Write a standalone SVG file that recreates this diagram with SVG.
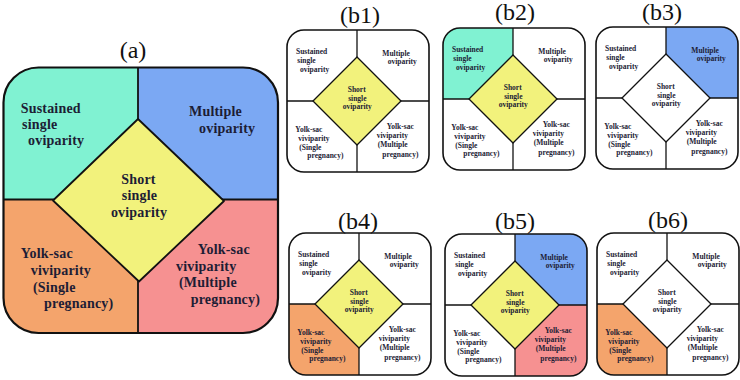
<svg xmlns="http://www.w3.org/2000/svg" width="740" height="380" viewBox="0 0 740 380">
  <defs>
    <clipPath id="clipA"><rect x="3.5" y="67.5" width="274.5" height="265.5" rx="35"/></clipPath>
    <clipPath id="clipB"><rect x="0" y="0" width="142" height="142" rx="17"/></clipPath>
  </defs>
  <rect fill="#ffffff" x="0" y="0" width="740" height="380"/>

  <!-- Panel (a) -->
  <g id="panel-a">
    <text font-family="Liberation Serif, serif" font-size="24" fill="#111" text-anchor="middle" x="133" y="58">(a)</text>
    <g clip-path="url(#clipA)">
      <rect fill="#80F2D2" x="3.5" y="67.5" width="134.5" height="132"/>
      <rect fill="#7BA8F3" x="138" y="67.5" width="140" height="132"/>
      <rect fill="#F4A46C" x="3.5" y="199.5" width="134.5" height="134"/>
      <rect fill="#F69191" x="138" y="199.5" width="140" height="134"/>
    </g>
    <g stroke="#111" stroke-width="1.8" fill="none">
      <line x1="138" y1="67.5" x2="138" y2="333"/>
      <line x1="3.5" y1="199.5" x2="278" y2="199.5"/>
    </g>
    <polygon fill="#F2F27C" stroke="#111" stroke-width="1.8" stroke-linejoin="round" points="138,119 224,201 139,281.5 53,200.5"/>
    <rect fill="none" stroke="#111" stroke-width="2.2" x="3.5" y="67.5" width="274.5" height="265.5" rx="35"/>
    <g font-family="Liberation Serif, serif" font-weight="bold" font-size="14" fill="#1d1d35" letter-spacing="0.2">
      <text x="20.7" y="112.7">Sustained</text>
      <text x="22" y="129">single</text>
      <text x="28" y="145">oviparity</text>
      <text x="189" y="116">Multiple</text>
      <text x="199" y="132.7">oviparity</text>
      <text text-anchor="middle" x="138.5" y="184">Short</text>
      <text text-anchor="middle" x="139.5" y="200">single</text>
      <text text-anchor="middle" x="139" y="216.7">oviparity</text>
      <text x="20.7" y="258">Yolk-sac</text>
      <text x="30.7" y="275">viviparity</text>
      <text x="33" y="291.7">(Single</text>
      <text x="44" y="308">pregnancy)</text>
      <text x="197.7" y="254">Yolk-sac</text>
      <text x="176" y="270.7">viviparity</text>
      <text x="179" y="287">(Multiple</text>
      <text x="190.7" y="304">pregnancy)</text>
    </g>
  </g>

  <!-- Panel (b1) -->
  <g id="panel-b1">
    <text font-family="Liberation Serif, serif" font-size="24" fill="#111" text-anchor="middle" x="360" y="22.5">(b1)</text>
    <g transform="translate(287,30)">
      <g stroke="#111" stroke-width="1.3"><line x1="70" y1="0" x2="70" y2="142"/><line x1="0" y1="71" x2="142" y2="71"/></g>
      <polygon fill="#F2F27C" stroke="#111" stroke-width="1.3" stroke-linejoin="round" points="70,27 114,71 70,115 26,71"/>
      <rect fill="none" stroke="#111" stroke-width="1.6" x="0" y="0" width="142" height="142" rx="17"/>
      <g transform="scale(0.5)" font-family="Liberation Serif, serif" font-weight="bold" font-size="15" fill="#1d1d35">
        <text x="18" y="48">Sustained</text>
        <text x="20.6" y="65.4">single</text>
        <text x="26" y="83.4">oviparity</text>
        <text x="190.6" y="51.4">Multiple</text>
        <text x="201.4" y="68">oviparity</text>
        <text text-anchor="middle" x="139.4" y="123.4">Short</text>
        <text text-anchor="middle" x="140.6" y="141">single</text>
        <text text-anchor="middle" x="140.6" y="158.6">oviparity</text>
        <text x="16.6" y="203.4">Yolk-sac</text>
        <text x="22.6" y="221.4">viviparity</text>
        <text x="24.6" y="240">(Single</text>
        <text x="40.6" y="256.6">pregnancy)</text>
        <text x="199.4" y="198.6">Yolk-sac</text>
        <text x="179.4" y="216">viviparity</text>
        <text x="181.4" y="234.6">(Multiple</text>
        <text x="190.6" y="253.4">pregnancy)</text>
      </g>
    </g>
  </g>

  <!-- Panel (b2) -->
  <g id="panel-b2">
    <text font-family="Liberation Serif, serif" font-size="24" fill="#111" text-anchor="middle" x="515" y="19.5">(b2)</text>
    <g transform="translate(443,28)">
      <g clip-path="url(#clipB)"><rect fill="#80F2D2" x="0" y="0" width="70" height="71"/></g>
      <g stroke="#111" stroke-width="1.3"><line x1="70" y1="0" x2="70" y2="142"/><line x1="0" y1="71" x2="142" y2="71"/></g>
      <polygon fill="#F2F27C" stroke="#111" stroke-width="1.3" stroke-linejoin="round" points="70,27 114,71 70,115 26,71"/>
      <rect fill="none" stroke="#111" stroke-width="1.6" x="0" y="0" width="142" height="142" rx="17"/>
      <g transform="scale(0.5)" font-family="Liberation Serif, serif" font-weight="bold" font-size="15" fill="#1d1d35">
        <text x="18" y="48">Sustained</text>
        <text x="20.6" y="65.4">single</text>
        <text x="26" y="83.4">oviparity</text>
        <text x="190.6" y="51.4">Multiple</text>
        <text x="201.4" y="68">oviparity</text>
        <text text-anchor="middle" x="139.4" y="123.4">Short</text>
        <text text-anchor="middle" x="140.6" y="141">single</text>
        <text text-anchor="middle" x="140.6" y="158.6">oviparity</text>
        <text x="16.6" y="203.4">Yolk-sac</text>
        <text x="22.6" y="221.4">viviparity</text>
        <text x="24.6" y="240">(Single</text>
        <text x="40.6" y="256.6">pregnancy)</text>
        <text x="199.4" y="198.6">Yolk-sac</text>
        <text x="179.4" y="216">viviparity</text>
        <text x="181.4" y="234.6">(Multiple</text>
        <text x="190.6" y="253.4">pregnancy)</text>
      </g>
    </g>
  </g>

  <!-- Panel (b3) -->
  <g id="panel-b3">
    <text font-family="Liberation Serif, serif" font-size="24" fill="#111" text-anchor="middle" x="662" y="19.5">(b3)</text>
    <g transform="translate(596,27)">
      <g clip-path="url(#clipB)"><rect fill="#7BA8F3" x="70" y="0" width="72" height="71"/></g>
      <g stroke="#111" stroke-width="1.3"><line x1="70" y1="0" x2="70" y2="142"/><line x1="0" y1="71" x2="142" y2="71"/></g>
      <polygon fill="#ffffff" stroke="#111" stroke-width="1.3" stroke-linejoin="round" points="70,27 114,71 70,115 26,71"/>
      <rect fill="none" stroke="#111" stroke-width="1.6" x="0" y="0" width="142" height="142" rx="17"/>
      <g transform="scale(0.5)" font-family="Liberation Serif, serif" font-weight="bold" font-size="15" fill="#1d1d35">
        <text x="18" y="48">Sustained</text>
        <text x="20.6" y="65.4">single</text>
        <text x="26" y="83.4">oviparity</text>
        <text x="190.6" y="51.4">Multiple</text>
        <text x="201.4" y="68">oviparity</text>
        <text text-anchor="middle" x="139.4" y="123.4">Short</text>
        <text text-anchor="middle" x="140.6" y="141">single</text>
        <text text-anchor="middle" x="140.6" y="158.6">oviparity</text>
        <text x="16.6" y="203.4">Yolk-sac</text>
        <text x="22.6" y="221.4">viviparity</text>
        <text x="24.6" y="240">(Single</text>
        <text x="40.6" y="256.6">pregnancy)</text>
        <text x="199.4" y="198.6">Yolk-sac</text>
        <text x="179.4" y="216">viviparity</text>
        <text x="181.4" y="234.6">(Multiple</text>
        <text x="190.6" y="253.4">pregnancy)</text>
      </g>
    </g>
  </g>

  <!-- Panel (b4) -->
  <g id="panel-b4">
    <text font-family="Liberation Serif, serif" font-size="24" fill="#111" text-anchor="middle" x="358" y="229">(b4)</text>
    <g transform="translate(289,233)">
      <g clip-path="url(#clipB)"><rect fill="#F4A46C" x="0" y="71" width="70" height="71"/></g>
      <g stroke="#111" stroke-width="1.3"><line x1="70" y1="0" x2="70" y2="142"/><line x1="0" y1="71" x2="142" y2="71"/></g>
      <polygon fill="#F2F27C" stroke="#111" stroke-width="1.3" stroke-linejoin="round" points="70,27 114,71 70,115 26,71"/>
      <rect fill="none" stroke="#111" stroke-width="1.6" x="0" y="0" width="142" height="142" rx="17"/>
      <g transform="scale(0.5)" font-family="Liberation Serif, serif" font-weight="bold" font-size="15" fill="#1d1d35">
        <text x="18" y="48">Sustained</text>
        <text x="20.6" y="65.4">single</text>
        <text x="26" y="83.4">oviparity</text>
        <text x="190.6" y="51.4">Multiple</text>
        <text x="201.4" y="68">oviparity</text>
        <text text-anchor="middle" x="139.4" y="123.4">Short</text>
        <text text-anchor="middle" x="140.6" y="141">single</text>
        <text text-anchor="middle" x="140.6" y="158.6">oviparity</text>
        <text x="16.6" y="203.4">Yolk-sac</text>
        <text x="22.6" y="221.4">viviparity</text>
        <text x="24.6" y="240">(Single</text>
        <text x="40.6" y="256.6">pregnancy)</text>
        <text x="199.4" y="198.6">Yolk-sac</text>
        <text x="179.4" y="216">viviparity</text>
        <text x="181.4" y="234.6">(Multiple</text>
        <text x="190.6" y="253.4">pregnancy)</text>
      </g>
    </g>
  </g>

  <!-- Panel (b5) -->
  <g id="panel-b5">
    <text font-family="Liberation Serif, serif" font-size="24" fill="#111" text-anchor="middle" x="515" y="229">(b5)</text>
    <g transform="translate(445,234)">
      <g clip-path="url(#clipB)">
        <rect fill="#7BA8F3" x="70" y="0" width="72" height="71"/>
        <rect fill="#F69191" x="70" y="71" width="72" height="71"/>
      </g>
      <g stroke="#111" stroke-width="1.3"><line x1="70" y1="0" x2="70" y2="142"/><line x1="0" y1="71" x2="142" y2="71"/></g>
      <polygon fill="#F2F27C" stroke="#111" stroke-width="1.3" stroke-linejoin="round" points="70,27 114,71 70,115 26,71"/>
      <rect fill="none" stroke="#111" stroke-width="1.6" x="0" y="0" width="142" height="142" rx="17"/>
      <g transform="scale(0.5)" font-family="Liberation Serif, serif" font-weight="bold" font-size="15" fill="#1d1d35">
        <text x="18" y="48">Sustained</text>
        <text x="20.6" y="65.4">single</text>
        <text x="26" y="83.4">oviparity</text>
        <text x="190.6" y="51.4">Multiple</text>
        <text x="201.4" y="68">oviparity</text>
        <text text-anchor="middle" x="139.4" y="123.4">Short</text>
        <text text-anchor="middle" x="140.6" y="141">single</text>
        <text text-anchor="middle" x="140.6" y="158.6">oviparity</text>
        <text x="16.6" y="203.4">Yolk-sac</text>
        <text x="22.6" y="221.4">viviparity</text>
        <text x="24.6" y="240">(Single</text>
        <text x="40.6" y="256.6">pregnancy)</text>
        <text x="199.4" y="198.6">Yolk-sac</text>
        <text x="179.4" y="216">viviparity</text>
        <text x="181.4" y="234.6">(Multiple</text>
        <text x="190.6" y="253.4">pregnancy)</text>
      </g>
    </g>
  </g>

  <!-- Panel (b6) -->
  <g id="panel-b6">
    <text font-family="Liberation Serif, serif" font-size="24" fill="#111" text-anchor="middle" x="668" y="228">(b6)</text>
    <g transform="translate(597,233)">
      <g clip-path="url(#clipB)"><rect fill="#F4A46C" x="0" y="71" width="70" height="71"/></g>
      <g stroke="#111" stroke-width="1.3"><line x1="70" y1="0" x2="70" y2="142"/><line x1="0" y1="71" x2="142" y2="71"/></g>
      <polygon fill="#ffffff" stroke="#111" stroke-width="1.3" stroke-linejoin="round" points="70,27 114,71 70,115 26,71"/>
      <rect fill="none" stroke="#111" stroke-width="1.6" x="0" y="0" width="142" height="142" rx="17"/>
      <g transform="scale(0.5)" font-family="Liberation Serif, serif" font-weight="bold" font-size="15" fill="#1d1d35">
        <text x="18" y="48">Sustained</text>
        <text x="20.6" y="65.4">single</text>
        <text x="26" y="83.4">oviparity</text>
        <text x="190.6" y="51.4">Multiple</text>
        <text x="201.4" y="68">oviparity</text>
        <text text-anchor="middle" x="139.4" y="123.4">Short</text>
        <text text-anchor="middle" x="140.6" y="141">single</text>
        <text text-anchor="middle" x="140.6" y="158.6">oviparity</text>
        <text x="16.6" y="203.4">Yolk-sac</text>
        <text x="22.6" y="221.4">viviparity</text>
        <text x="24.6" y="240">(Single</text>
        <text x="40.6" y="256.6">pregnancy)</text>
        <text x="199.4" y="198.6">Yolk-sac</text>
        <text x="179.4" y="216">viviparity</text>
        <text x="181.4" y="234.6">(Multiple</text>
        <text x="190.6" y="253.4">pregnancy)</text>
      </g>
    </g>
  </g>
</svg>
